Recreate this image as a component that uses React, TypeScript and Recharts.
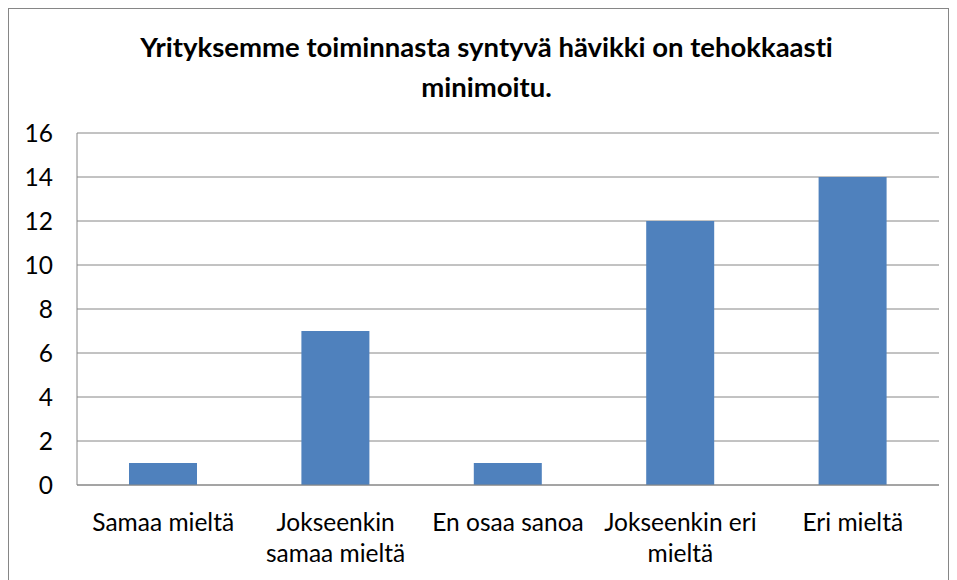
import React from 'react';
import { BarChart, Bar, XAxis, YAxis, CartesianGrid } from 'recharts';

const categories = ['Samaa mieltä', 'Jokseenkin samaa mieltä', 'En osaa sanoa', 'Jokseenkin eri mieltä', 'Eri mieltä'];
const tickLines: string[][] = [
  ['Samaa mieltä'],
  ['Jokseenkin', 'samaa mieltä'],
  ['En osaa sanoa'],
  ['Jokseenkin eri', 'mieltä'],
  ['Eri mieltä'],
];
const counts = [1, 7, 1, 12, 14];
const yTicks = [0, 2, 4, 6, 8, 10, 12, 14, 16];
const titleLines = ['Yrityksemme toiminnasta syntyvä hävikki on tehokkaasti', 'minimoitu.'];

const FONT = 'Lato, "Open Sans", sans-serif';
const AXIS_GREY = '#868686';

const data = categories.map((name, i) => ({ name, value: counts[i] }));

const CategoryTick = (props: any) => {
  const { x, y, index } = props;
  const lines = tickLines[index] || [];
  return (
    <g transform={`translate(${x},${y})`}>
      {lines.map((line, i) => (
        <text key={i} x={0} y={i * 31} dy={38} textAnchor="middle" fill="#000" fontSize={24.5} fontFamily={FONT}>
          {line}
        </text>
      ))}
    </g>
  );
};

export default function App() {
  return (
    <div style={{ position: 'relative', width: 939, height: 600, border: `1.5px solid ${AXIS_GREY}`, background: '#fff', fontFamily: FONT }}>
      <div style={{ position: 'absolute', left: 8, top: 18, width: 939, textAlign: 'center', fontWeight: 700, fontSize: 27.5, lineHeight: '40px', color: '#000', fontVariantLigatures: 'none' }}>
        {titleLines.map((t, i) => (
          <div key={i}>{t}</div>
        ))}
      </div>
      <BarChart
        width={939}
        height={580}
        data={data}
        margin={{ top: 124, right: 9, bottom: 0, left: 9 }}
        barSize={68}
      >
        <CartesianGrid vertical={false} stroke={AXIS_GREY} strokeWidth={1} />
        <XAxis
          dataKey="name"
          axisLine={{ stroke: AXIS_GREY }}
          tickLine={false}
          tick={<CategoryTick />}
          interval={0}
          height={104}
        />
        <YAxis
          domain={[0, 16]}
          ticks={yTicks}
          axisLine={{ stroke: AXIS_GREY }}
          tickLine={false}
          tickSize={0}
          tickMargin={24}
          width={59}
          tick={{ fill: '#000', fontSize: 24.5, fontFamily: FONT }}
        />
        <Bar dataKey="value" fill="#4F81BD" isAnimationActive={false} />
      </BarChart>
    </div>
  );
}
